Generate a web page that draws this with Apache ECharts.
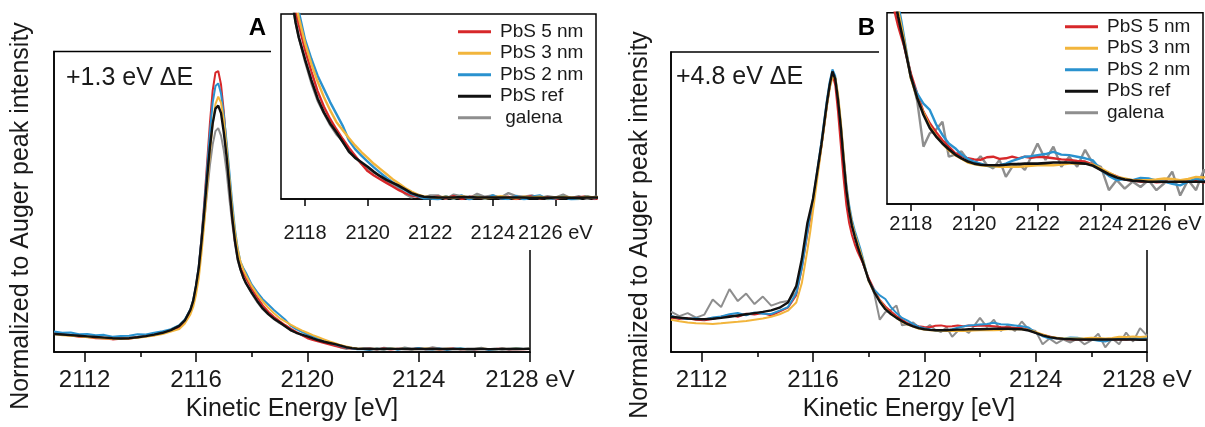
<!DOCTYPE html>
<html><head><meta charset="utf-8">
<script src="https://cdn.jsdelivr.net/npm/echarts@6/dist/echarts.min.js"></script>
<style>html,body{margin:0;padding:0;background:#fff}#c{width:1205px;height:427px}</style>
</head><body><div id="c"></div>
<script>
// Shared kinetic-energy grid (eV)
const energy = [2110.9,2111.2,2111.5,2111.8,2112.1,2112.4,2112.7,2113.0,2113.3,2113.6,2113.9,2114.2,2114.5,2114.8,2115.1,2115.4,
 2115.6,2115.8,2115.9,2116.0,2116.1,2116.2,2116.3,2116.4,2116.5,2116.6,2116.7,2116.8,2116.9,2117.0,2117.1,2117.2,2117.3,2117.4,2117.5,2117.6,2117.7,2117.8,
 2118.0,2118.2,2118.4,2118.6,2118.8,2119.0,2119.2,2119.4,2119.6,2119.8,2120.0,2120.2,2120.4,2120.6,2120.8,2121.0,2121.2,2121.4,2121.6,2121.8,2122.0,
 2122.25,2122.5,2122.75,2123.0,2123.25,2123.5,2123.75,2124.0,2124.25,2124.5,2124.75,2125.0,2125.25,2125.5,2125.75,2126.0,2126.25,2126.5,2126.75,2127.0,2127.25,2127.5,2127.75,2128.0];

// Panel A (+1.3 eV ΔE)
const A_pbs5 = [6.2,5.7,5.5,5.1,5.0,4.6,4.5,4.2,4.4,4.4,4.9,5.2,5.6,6.3,7.1,8.2,
 10.3,13.5,16.5,21.5,28,38,50,63,76,87,93,93.5,89,80,68,56,45,37,31.5,28,26.3,24.5,
 21.1,18.2,15.5,13.4,11.7,10.3,9.0,7.8,6.7,5.6,4.6,4.0,3.5,3.0,2.5,2.0,1.6,1.3,1.1,1.0,1.0,
 1.1,0.9,1.2,0.8,1.1,1.0,0.9,1.2,0.9,1.1,0.8,1.0,1.2,0.9,1.0,0.8,1.1,0.9,1.0,1.2,0.8,1.0,0.9,1.0];
const A_pbs3 = [6.0,5.6,5.4,5.2,4.9,4.8,4.5,4.4,4.3,4.5,4.7,5.1,5.5,6.0,6.8,7.6,
 9.5,12.5,15,19,24.5,33,43,55,66,76,82.5,85,83,77,68,58,48,40,34,30,27.5,25.5,
 22.0,19.2,16.8,14.7,12.9,11.3,10.2,9.1,8.1,7.2,6.4,5.6,4.9,4.2,3.5,2.9,2.3,1.8,1.4,1.15,1.05,
 1.0,1.1,0.9,1.2,1.0,1.1,0.9,1.0,1.2,1.0,0.9,1.1,1.0,1.1,0.9,1.0,1.1,1.0,0.9,1.1,1.0,1.2,1.0,1.1];
const A_pbs2 = [6.8,6.4,6.5,5.9,6.0,5.6,5.7,5.1,5.3,5.4,5.9,5.8,6.4,6.9,7.6,8.9,
 10.8,14.2,17.2,22,28.5,38,49,61,73,83,88.5,89.4,86,79,70,60,50,41,34.5,30,28,26.3,
 22.5,19.9,17.6,15.8,14.0,12.4,10.8,8.8,7.6,6.7,5.9,5.1,4.4,3.7,3.1,2.5,2.0,1.5,1.2,0.9,0.9,
 0.7,1.2,0.8,1.3,0.7,1.2,0.8,1.3,0.9,0.8,1.2,0.7,1.1,1.3,0.8,0.9,1.2,0.7,0.8,1.2,0.9,1.3,1.0,1.1];
const A_ref = [6.0,5.8,5.6,5.4,5.2,5.0,4.8,4.6,4.5,4.6,4.9,5.3,5.8,6.4,7.3,8.7,
 10.5,14,17,22,28,37,47,58,68,76,81,82,79.5,73,65,55,45,37,31,27.5,24.8,22.8,
 19.8,17.0,14.5,12.6,11.1,9.9,8.6,7.3,6.4,5.8,5.2,4.5,3.9,3.4,3.0,2.6,2.1,1.6,1.3,1.1,1.05,
 1.0,1.0,1.0,1.05,1.05,1.0,1.0,1.0,1.0,1.0,1.0,1.0,0.95,0.95,0.95,1.0,1.0,0.95,0.95,1.0,1.0,1.0,1.05,1.1];
const A_galena = [6.4,6.0,5.7,5.6,5.1,5.2,4.8,4.9,4.6,4.8,5.0,5.5,5.9,6.6,7.4,8.8,
 10.6,14,17,21.5,27,35,44,53,62,69,73.5,74.5,72,67,60,51,43,36,30.5,27.3,24.8,22.8,
 19.5,16.6,14.2,12.5,10.9,9.6,8.7,7.2,6.5,5.6,5.0,4.4,3.9,3.2,2.8,2.3,1.5,1.0,1.4,1.0,1.3,
 1.3,0.8,1.4,1.2,0.9,1.5,1.1,1.3,1.0,1.6,1.2,1.1,1.3,0.9,1.2,1.0,1.4,0.9,1.2,0.8,1.1,1.0,0.9,1.1];

// Panel B (+4.8 eV ΔE)
const B_pbs5 = [11.5,11.0,11.3,10.8,10.6,11.0,11.8,12.4,11.8,12.8,12.5,13.0,12.2,13.5,14.8,19,
 28,39.5,44.5,50,56,62,68.5,75.5,82.5,88.5,92.5,89,80,69,58,49,43,39,36,33.5,31.5,29.5,
 24.6,20.8,17.4,15.2,13.5,12.0,10.8,9.6,9.0,8.6,8.4,8.3,8.8,8.9,8.5,8.6,8.9,8.6,8.9,8.7,8.9,
 8.8,8.6,8.4,8.3,8.1,8.0,7.4,6.4,5.8,5.2,4.6,4.4,4.2,4.3,4.1,4.2,4.0,4.3,4.2,4.3,4.1,4.4,4.2,4.3];
const B_pbs3 = [10.8,10.3,9.9,9.6,9.5,9.4,9.6,9.9,10.1,10.4,10.8,11.2,11.8,12.6,13.8,16.5,
 23,34,40,47,54,61,68,75,82,88,91.5,91.5,86,77,66,55,48,43,39.5,36.5,33.5,30.5,
 23.7,20.0,17.2,14.6,12.8,11.4,10.1,9.2,8.5,7.8,7.5,7.3,7.2,7.1,7.0,7.0,7.0,7.0,7.1,7.2,7.3,
 7.3,7.3,7.4,7.6,7.6,7.6,7.4,6.7,5.9,5.1,4.8,4.5,4.5,4.5,4.6,4.8,4.7,4.5,4.7,5.1,5.0,5.2,5.0,5.2];
const B_pbs2 = [12.0,11.4,11.0,11.3,10.9,11.5,11.9,12.6,13.0,12.3,13.2,12.8,12.7,13.8,15.0,19.5,
 28,40,45.5,51,57,63.5,70,77,84,90,94.2,92,85,76,65.5,56,49,44,40.5,37.5,34.5,31,
 23.7,20.8,18.9,17.7,15.0,13.0,11.4,10.5,9.3,8.5,7.95,7.6,7.2,7.0,7.3,7.6,8.1,8.5,8.9,9.0,9.2,
 9.4,9.8,9.3,9.2,8.9,8.6,8.2,6.4,5.3,4.5,4.7,4.5,4.9,4.8,4.4,4.2,3.8,3.5,4.2,4.8,4.3,4.6,4.5,4.8];
const B_ref = [11.8,11.5,11.2,11.0,11.0,11.1,11.4,11.8,12.2,12.6,13.0,13.4,13.9,14.8,16.5,22,
 31,43,47,51,57,63,69,76,83,89,93.5,91,84,75,64,54,47,42,38.5,35.3,32.5,29.8,
 24.0,20.0,16.8,14.3,12.7,11.4,10.3,9.3,8.6,8.0,7.6,7.4,7.3,7.3,7.3,7.4,7.5,7.5,7.6,7.6,7.6,
 7.7,7.8,7.8,7.8,7.7,7.6,7.2,6.4,5.6,5.0,4.6,4.4,4.3,4.2,4.2,4.2,4.2,4.2,4.2,4.2,4.2,4.2,4.1,4.1];
const B_galena = [13.5,12.0,13.0,11.5,12.5,17.5,15.0,21.0,17.0,19.5,16.0,18.5,15.5,16.5,17.0,20,
 30,41,46,50,56,62,68.5,75,82,88,92.5,90.5,84,75,64,54,47,42.5,39,35.5,32.5,29.5,
 24.3,19.5,10.8,13.3,14.0,15.5,8.9,9.3,9.9,8.3,7.6,9.0,7.4,6.7,8.3,5.1,7.0,7.6,6.4,8.9,11.4,
 8.3,10.8,7.0,8.9,7.0,10.2,7.6,7.0,2.6,4.5,2.9,4.2,3.2,4.5,2.6,3.9,6.1,1.6,4.5,2.6,6.5,3.5,8.0,5.5];

const namesA = ['PbS 5 nm','PbS 3 nm','PbS 2 nm','PbS ref',' galena'];
const namesB = ['PbS 5 nm','PbS 3 nm','PbS 2 nm','PbS ref','galena'];
const mainTicks = [2112,2116,2120,2124,2128];
const mainMinorTicks = [2114,2118,2122,2126];
const insetTicks = [2118,2120,2122,2124,2126];

const FONT = '"Liberation Sans", Arial, sans-serif';
const colors = ['#d7282a','#f2b53c','#2a92cf','#111111','#8e8e8e'];
const dataA = [A_pbs5, A_pbs3, A_pbs2, A_ref, A_galena];
const dataB = [B_pbs5, B_pbs3, B_pbs2, B_ref, B_galena];
const drawOrder = [4,0,2,1,3];
const TXT = '#1a1a1a';

function mainX(grid){
  return {type:'value', gridIndex:grid, min:2110.9, max:2128, position:'bottom', z:1,
    axisLine:{show:true, onZero:false, lineStyle:{color:'#000', width:1.5}},
    axisTick:{show:true, length:10, inside:false, customValues:mainTicks, lineStyle:{color:'#000', width:1.5}},
    axisLabel:{show:true, customValues:mainTicks, margin:16, fontSize:24, color:TXT, fontFamily:FONT,
      formatter:v=> v===2128 ? '2128 eV' : String(v)},
    splitLine:{show:false},
    name:'Kinetic Energy [eV]', nameLocation:'middle', nameGap:44,
    nameTextStyle:{fontSize:25, color:TXT, fontFamily:FONT}};
}
function minorX(grid){
  return {type:'value', gridIndex:grid, min:2110.9, max:2128, position:'bottom', z:1,
    axisLine:{show:false, onZero:false},
    axisTick:{show:true, length:5, inside:false, customValues:mainMinorTicks, lineStyle:{color:'#000', width:1.5}},
    axisLabel:{show:false}, splitLine:{show:false}};
}
function insetX(grid, min, max, margin){
  return {type:'value', gridIndex:grid, min:min, max:max, position:'bottom', z:61,
    axisLine:{show:true, onZero:false, lineStyle:{color:'#000', width:1.5}},
    axisTick:{show:true, length:7, inside:false, customValues:insetTicks, lineStyle:{color:'#000', width:1.5}},
    axisLabel:{show:true, customValues:insetTicks, margin:margin, fontSize:20, color:TXT, fontFamily:FONT,
      formatter:v=> v===2126 ? '2126 eV' : String(v)},
    splitLine:{show:false}};
}
function mainY(grid){
  return {type:'value', gridIndex:grid, min:0, max:100, z:1,
    axisLine:{show:true, onZero:false, lineStyle:{color:'#000', width:1.5}},
    axisTick:{show:false}, axisLabel:{show:false}, splitLine:{show:false}};
}
function insetY(grid, min, max){
  return {type:'value', gridIndex:grid, min:min, max:max, show:false, z:61,
    axisLine:{show:false}, axisTick:{show:false}, axisLabel:{show:false}, splitLine:{show:false}};
}

const series = [];
function addSeries(data, names, xi, yi, widthColor, widthBlack, z){
  drawOrder.forEach(k=>{
    series.push({type:'line', name:names[k], xAxisIndex:xi, yAxisIndex:yi,
      data: energy.map((e,i)=>[e, data[k][i]]),
      symbol:'none', showSymbol:false, clip:true, silent:true, z:z,
      lineStyle:{color:colors[k], width: k===3 ? widthBlack : widthColor},
      itemStyle:{color:colors[k]}});
  });
}
addSeries(dataA, namesA, 0, 0, 2, 2.4, 2);
addSeries(dataA, namesA, 2, 1, 2.4, 2.6, 62);
addSeries(dataB, namesB, 3, 2, 2, 2.4, 2);
addSeries(dataB, namesB, 5, 3, 2.4, 2.6, 62);

function legend(left, top, names){
  return {show:true, orient:'vertical', left:left, top:top, z:70, selectedMode:false, padding:0,
    icon:'rect', itemWidth:33, itemHeight:3, itemGap:0,
    textStyle:{fontSize:19, color:TXT, fontFamily:FONT, lineHeight:21.5, padding:[0,0,0,4]},
    data:names};
}

const ytitle = 'Normalized to Auger peak intensity';
const option = {
  animation:false,
  backgroundColor:'#fff',
  grid:[
    {left:54, top:51.5, width:476, height:300.5, show:true, borderColor:'#000', borderWidth:1.5, z:0},
    {left:281, top:14, width:315, height:185, show:true, borderColor:'#000', borderWidth:1.5, backgroundColor:'#fff', z:60},
    {left:671, top:52, width:476, height:300.5, show:true, borderColor:'#000', borderWidth:1.5, z:0},
    {left:887, top:12.7, width:316, height:191.3, show:true, borderColor:'#000', borderWidth:1.5, backgroundColor:'#fff', z:60}
  ],
  xAxis:[ mainX(0), minorX(0), insetX(1, 2117.23, 2127.3, 24), mainX(2), minorX(2), insetX(3, 2117.25, 2127.22, 10) ],
  yAxis:[ mainY(0), insetY(1, 0.8, 26), mainY(2), insetY(3, 0, 36) ],
  legend:[ legend(458, 21, namesA), legend(1065, 16, namesB) ],
  series: series,
  graphic:[
    {type:'rect', z:50, silent:true, shape:{x:271, y:0, width:345, height:250}, style:{fill:'#fff'}},
    {type:'rect', z:50, silent:true, shape:{x:879, y:0, width:326, height:250}, style:{fill:'#fff'}},
    {type:'text', z:80, x:257.5, y:28, style:{text:'A', fontSize:24, fontWeight:'bold', fill:'#000', fontFamily:FONT, align:'center', verticalAlign:'middle'}},
    {type:'text', z:80, x:866.5, y:28, style:{text:'B', fontSize:24, fontWeight:'bold', fill:'#000', fontFamily:FONT, align:'center', verticalAlign:'middle'}},
    {type:'text', z:80, x:66, y:78, style:{text:'+1.3 eV ΔE', fontSize:25, fill:TXT, fontFamily:FONT, align:'left', verticalAlign:'middle'}},
    {type:'text', z:80, x:676, y:77, style:{text:'+4.8 eV ΔE', fontSize:25, fill:TXT, fontFamily:FONT, align:'left', verticalAlign:'middle'}},
    {type:'text', z:80, x:21, y:216, rotation:Math.PI/2, style:{text:ytitle, fontSize:25, fill:TXT, fontFamily:FONT, align:'center', verticalAlign:'middle'}},
    {type:'text', z:80, x:640, y:225, rotation:Math.PI/2, style:{text:ytitle, fontSize:25, fill:TXT, fontFamily:FONT, align:'center', verticalAlign:'middle'}}
  ]
};
const chart = echarts.init(document.getElementById('c'), null, {renderer:'canvas'});
chart.setOption(option);
</script>
</body></html>
